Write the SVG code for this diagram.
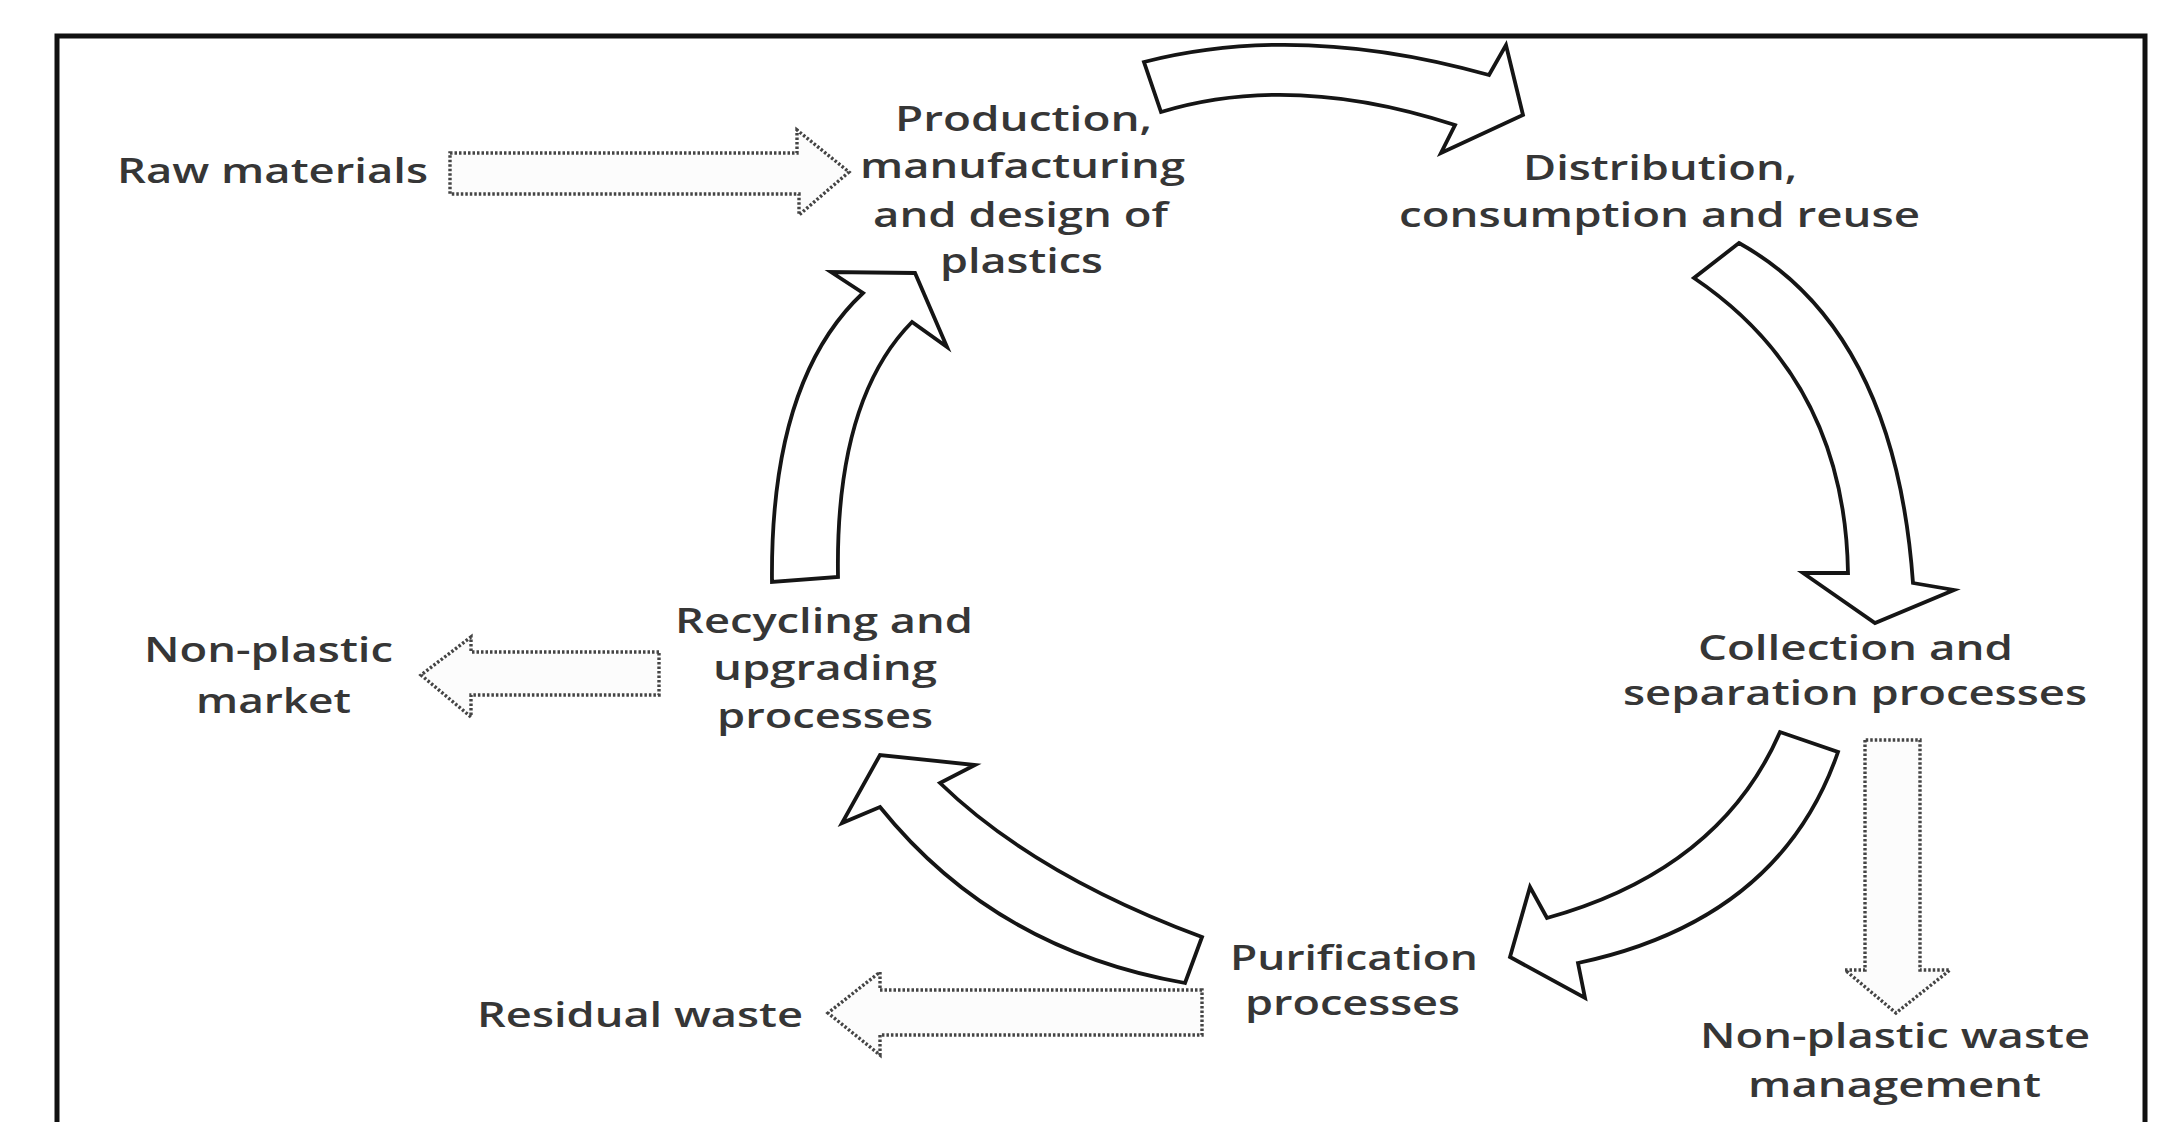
<svg xmlns="http://www.w3.org/2000/svg" width="2171" height="1122" viewBox="0 0 2171 1122">
  <style>
    .frame { fill: none; stroke: #111; stroke-width: 5; }
    .cycle { fill: #fff; stroke: #151515; stroke-width: 3.8; stroke-linejoin: miter; }
    .side { fill: #fcfcfc; stroke: #444; stroke-width: 3.4; stroke-dasharray: 2.5 2; stroke-linejoin: miter; }
    text { font-family: "Open Sans", "Liberation Sans", sans-serif; font-size: 35px; font-weight: 600; fill: #363636; }
  </style>

  <rect width="2171" height="1122" fill="#fff"/>
  <rect class="frame" x="57" y="36" width="2088" height="1100"/>

  <!-- cycle and side-stream arrows -->
  <g id="connectors">
    <!-- production -> distribution -->
    <path class="cycle" d="M1144,62 Q1300,22 1489,75 L1506,45 L1523,115 L1441,153 L1455,125 Q1292,72 1161,112 Z"/>
    <!-- distribution -> collection -->
    <path class="cycle" d="M1739,243 Q1895,330 1913,583 L1954,590 L1875,623 L1803,573 L1848,573 Q1845,380 1694,278 Z"/>
    <!-- collection -> purification -->
    <path class="cycle" d="M1838,752 Q1780,920 1578,963 L1585,998 L1510,957 L1530,887 L1547,918 Q1720,870 1780,732 Z"/>
    <!-- purification -> recycling -->
    <path class="cycle" d="M1185,983 Q995,950 880,807 L842,823 L880,755 L975,765 L940,783 Q1035,875 1202,937 Z"/>
    <!-- recycling -> production -->
    <path class="cycle" d="M772,582 Q770,380 863,293 L831,272 L915,273 L947,347 L912,322 Q835,400 838,577 Z"/>

    <!-- raw materials in -->
    <path class="side" d="M450,153 H797 L797,130 L849,172 L799,215 L799,194 H450 Z"/>
    <!-- non-plastic market out -->
    <path class="side" d="M659,652 H471 L471,637 L421,675 L471,717 L471,695 H659 Z"/>
    <!-- residual waste out -->
    <path class="side" d="M1202,990 H880 L880,972 L828,1013 L880,1055 L880,1035 H1202 Z"/>
    <!-- non-plastic waste management out -->
    <path class="side" d="M1865,740 V970 H1845 L1896,1013 L1950,970 H1920 V740 Z"/>
  </g>

  <g id="raw-materials">
    <text x="117" y="183" textLength="311" lengthAdjust="spacingAndGlyphs">Raw materials</text>
  </g>

  <g id="production">
    <text x="895" y="131" textLength="257" lengthAdjust="spacingAndGlyphs">Production,</text>
    <text x="860" y="178" textLength="325" lengthAdjust="spacingAndGlyphs">manufacturing</text>
    <text x="873" y="227" textLength="295" lengthAdjust="spacingAndGlyphs">and design of</text>
    <text x="940" y="273" textLength="163" lengthAdjust="spacingAndGlyphs">plastics</text>
  </g>

  <g id="distribution">
    <text x="1523" y="180" textLength="274" lengthAdjust="spacingAndGlyphs">Distribution,</text>
    <text x="1399" y="227" textLength="521" lengthAdjust="spacingAndGlyphs">consumption and reuse</text>
  </g>

  <g id="collection">
    <text x="1698" y="660" textLength="315" lengthAdjust="spacingAndGlyphs">Collection and</text>
    <text x="1623" y="705" textLength="464" lengthAdjust="spacingAndGlyphs">separation processes</text>
  </g>

  <g id="purification">
    <text x="1230" y="970" textLength="248" lengthAdjust="spacingAndGlyphs">Purification</text>
    <text x="1245" y="1015" textLength="215" lengthAdjust="spacingAndGlyphs">processes</text>
  </g>

  <g id="recycling">
    <text x="675" y="633" textLength="298" lengthAdjust="spacingAndGlyphs">Recycling and</text>
    <text x="713" y="680" textLength="224" lengthAdjust="spacingAndGlyphs">upgrading</text>
    <text x="717" y="728" textLength="216" lengthAdjust="spacingAndGlyphs">processes</text>
  </g>

  <g id="non-plastic-market">
    <text x="144" y="662" textLength="249" lengthAdjust="spacingAndGlyphs">Non-plastic</text>
    <text x="196" y="713" textLength="155" lengthAdjust="spacingAndGlyphs">market</text>
  </g>

  <g id="residual-waste">
    <text x="477" y="1027" textLength="326" lengthAdjust="spacingAndGlyphs">Residual waste</text>
  </g>

  <g id="non-plastic-waste">
    <text x="1700" y="1048" textLength="390" lengthAdjust="spacingAndGlyphs">Non-plastic waste</text>
    <text x="1748" y="1097" textLength="293" lengthAdjust="spacingAndGlyphs">management</text>
  </g>
</svg>
